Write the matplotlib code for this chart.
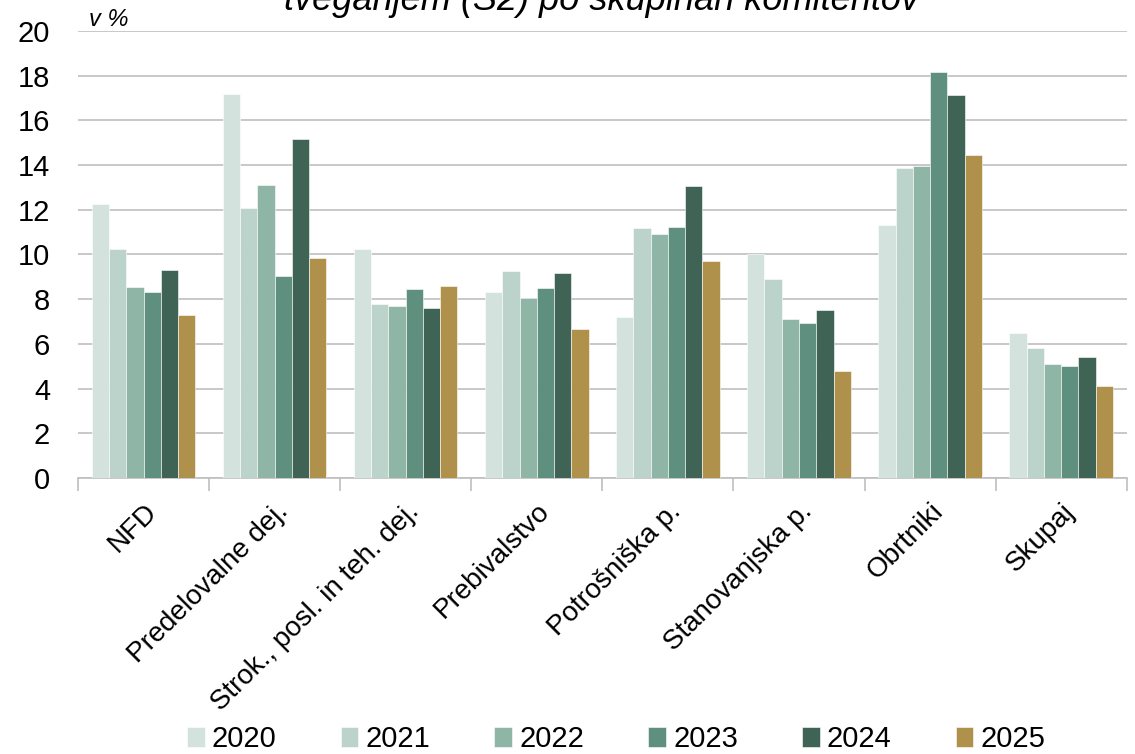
import numpy as np
import matplotlib
matplotlib.use("Agg")
import matplotlib.pyplot as plt

plt.rcParams['font.family'] = ['Liberation Sans', 'DejaVu Sans']

categories = ["NFD", "Predelovalne dej.", "Strok., posl. in teh. dej.", "Prebivalstvo",
              "Potrošniška p.", "Stanovanjska p.", "Obrtniki", "Skupaj"]
years = ["2020", "2021", "2022", "2023", "2024", "2025"]
v2020 = [12.25, 17.2, 10.25, 8.3, 7.2, 10.0, 11.3, 6.5]
v2021 = [10.25, 12.1, 7.8, 9.25, 11.2, 8.9, 13.85, 5.8]
v2022 = [8.55, 13.1, 7.7, 8.05, 10.9, 7.1, 13.95, 5.1]
v2023 = [8.3, 9.05, 8.45, 8.5, 11.25, 6.95, 18.15, 5.0]
v2024 = [9.3, 15.15, 7.6, 9.15, 13.05, 7.5, 17.15, 5.4]
v2025 = [7.3, 9.85, 8.6, 6.65, 9.7, 4.8, 14.45, 4.1]
series = [v2020, v2021, v2022, v2023, v2024, v2025]
colors = ["#d3e2dd", "#bbd3ca", "#8fb5a7", "#5f8f7e", "#3f6455", "#b0914c"]

fig = plt.figure(figsize=(11.35, 7.54), dpi=100)
ax = fig.add_axes([0.0687, 0.366, 0.924, 0.593])

x = np.arange(len(categories))
n = len(series)
bw = 0.79 / n
for i, (vals, c, yr) in enumerate(zip(series, colors, years)):
    ax.bar(x - 0.395 + bw * (i + 0.5), vals, bw, color=c, label=yr,
           edgecolor="white", linewidth=0.4, zorder=3)

ax.set_xlim(-0.5, len(categories) - 0.5)
ax.set_ylim(0, 20)
ax.set_yticks(np.arange(0, 21, 2))
ax.yaxis.grid(True, color="#bfbfbf", linewidth=1.2, zorder=0)
ax.tick_params(axis="y", length=0, labelsize=21, pad=20)
for s in ["top", "right", "left"]:
    ax.spines[s].set_visible(False)
ax.spines["bottom"].set_color("#bfbfbf")
ax.spines["bottom"].set_linewidth(1.2)

ax.set_xticks(np.arange(-0.5, len(categories), 1.0))
ax.set_xticklabels([])
ax.tick_params(axis="x", length=9, color="#bfbfbf", width=1.2, direction="out")
for xi, lab in zip(x, categories):
    ax.text(xi, -0.9, lab, rotation=45, ha="right", va="top",
            rotation_mode="anchor", fontsize=20)

fig.text(0.078, 0.974, "v %", fontsize=17, style="italic", ha="left", va="center")
fig.text(0.53, 1.0, "tveganjem (S2) po skupinah komitentov", fontsize=26,
         style="italic", ha="center", va="center")

fig.legend(loc="center", bbox_to_anchor=(0.543, 0.02), ncol=6, frameon=False,
           fontsize=21, handlelength=0.6, handleheight=0.7, handletextpad=0.25,
           columnspacing=2.2)

fig.savefig("out.png", dpi=100)
